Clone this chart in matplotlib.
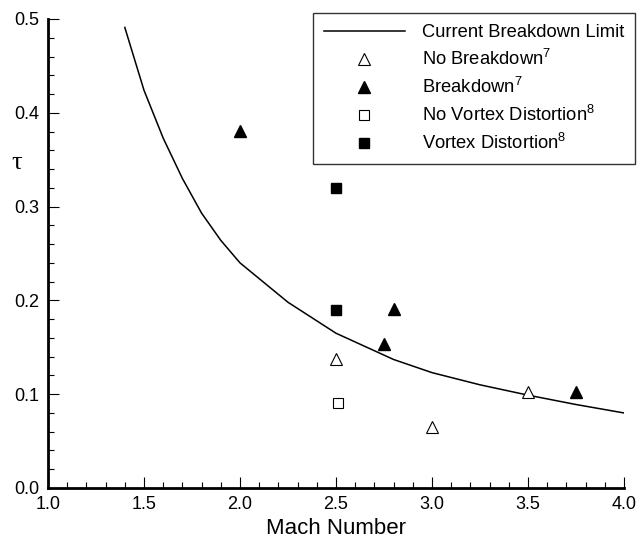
import numpy as np
import matplotlib
matplotlib.use("Agg")
import matplotlib.pyplot as plt
from matplotlib.ticker import MultipleLocator

plt.rcParams['font.family'] = ['Liberation Sans', 'DejaVu Sans']
plt.rcParams['mathtext.default'] = 'regular'

# breakdown limit curve
mach_curve = [1.4, 1.5, 1.6, 1.7, 1.8, 1.9, 2.0, 2.25, 2.5, 2.8, 3.0, 3.25, 3.5, 3.75, 4.0]
tau_curve = [0.491, 0.424, 0.373, 0.330, 0.293, 0.264, 0.240, 0.198, 0.165, 0.137, 0.123, 0.110, 0.099, 0.089, 0.080]

# experiments
nb_mach = [2.5, 3.0, 3.5]
nb_tau = [0.137, 0.065, 0.102]
b_mach = [2.0, 2.75, 2.8, 3.75]
b_tau = [0.381, 0.153, 0.191, 0.102]
nvd_mach = [2.51]
nvd_tau = [0.091]
vd_mach = [2.5, 2.5]
vd_tau = [0.320, 0.190]

fig = plt.figure(figsize=(6.38, 5.40), dpi=100)
ax = fig.add_axes([48/638, 1-488/540, 576/638, 469/540])

ax.plot(mach_curve, tau_curve, color="black", linewidth=1.1, label="Current Breakdown Limit")
ax.plot(nb_mach, nb_tau, linestyle="none", marker="^", markersize=9, markerfacecolor="white",
        markeredgecolor="black", markeredgewidth=0.8, label="No Breakdown$^7$")
ax.plot(b_mach, b_tau, linestyle="none", marker="^", markersize=9, color="black",
        label="Breakdown$^7$")
ax.plot(nvd_mach, nvd_tau, linestyle="none", marker="s", markersize=7.5, markerfacecolor="white",
        markeredgecolor="black", markeredgewidth=0.8, label="No Vortex Distortion$^8$")
ax.plot(vd_mach, vd_tau, linestyle="none", marker="s", markersize=7.5, color="black",
        label="Vortex Distortion$^8$")

ax.set_xlim(1.0, 4.0)
ax.set_ylim(0.0, 0.5)
ax.xaxis.set_major_locator(MultipleLocator(0.5))
ax.xaxis.set_minor_locator(MultipleLocator(0.1))
ax.yaxis.set_major_locator(MultipleLocator(0.1))
ax.yaxis.set_minor_locator(MultipleLocator(0.02))
ax.xaxis.set_major_formatter(matplotlib.ticker.FormatStrFormatter('%.1f'))
ax.yaxis.set_major_formatter(matplotlib.ticker.FormatStrFormatter('%.1f'))

ax.spines['top'].set_visible(False)
ax.spines['right'].set_visible(False)
ax.spines['left'].set_linewidth(2)
ax.spines['bottom'].set_linewidth(2)
ax.tick_params(which='major', direction='in', length=8, width=0.8, labelsize=13, pad=6)
ax.tick_params(which='minor', direction='in', length=4, width=0.8)

ax.set_xlabel("Mach Number", fontsize=16, labelpad=3)
ax.set_ylabel("τ", fontsize=19, rotation=0, va='center', family=['Liberation Serif'])
ax.yaxis.set_label_coords(-0.054, 0.693)

leg = ax.legend(loc="upper left", bbox_to_anchor=(313/638, 1-13/540),
                bbox_transform=fig.transFigure, borderaxespad=0, fontsize=13.2,
                frameon=True, fancybox=False, edgecolor="black", labelspacing=0.43,
                handlelength=4.4, handletextpad=0.95, borderpad=0.6)
leg.get_frame().set_linewidth(1.0)

fig.savefig("out.png", dpi=100)
